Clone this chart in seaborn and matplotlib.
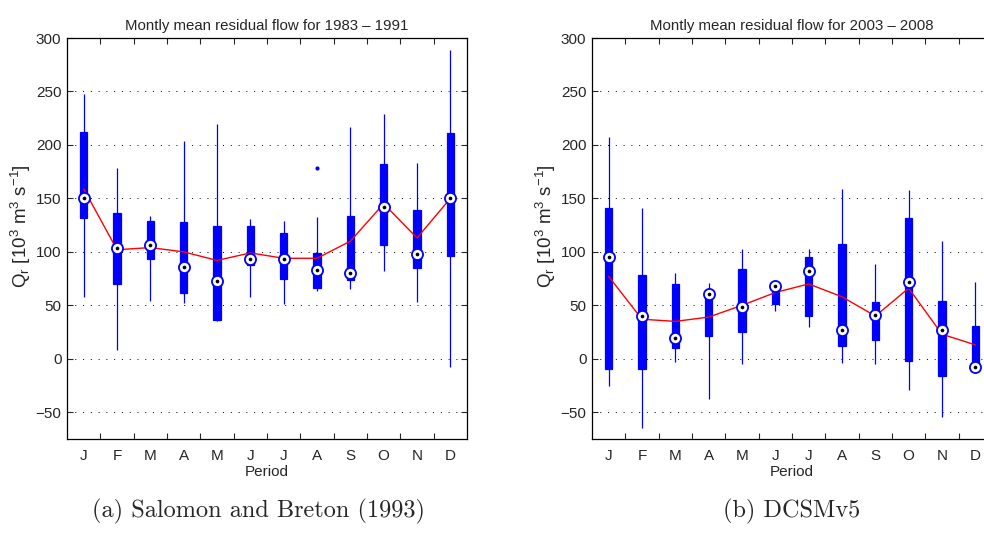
import numpy as np
import pandas as pd
import matplotlib
matplotlib.use("Agg")
import matplotlib.pyplot as plt
import seaborn as sns

# ---------------- data ----------------
months = ["Jan", "Feb", "Mar", "Apr", "May", "Jun", "Jul", "Aug", "Sep", "Oct", "Nov", "Dec"]
tick_labels = ["J", "F", "M", "A", "M", "J", "J", "A", "S", "O", "N", "D"]

# (a) Salomon and Breton (1993), 1983-1991
a_lo   = [58, 8, 54, 52, 35, 58, 51, 63, 65, 82, 53, -8]
a_q1   = [132, 70, 93, 62, 36, 88, 75, 66, 74, 106, 85, 96]
a_med  = [150, 104, 106, 86, 73, 93, 93, 83, 80, 142, 98, 150]
a_q3   = [212, 136, 129, 128, 124, 124, 118, 99, 134, 182, 139, 211]
a_hi   = [248, 178, 134, 204, 220, 131, 129, 133, 217, 229, 183, 289]
a_mean = [159, 102, 104, 100, 92, 99, 94, 94, 110, 145, 113, 150]
a_out_month = ["Aug"]
a_out_value = [178]

# (b) DCSMv5, 2003-2008
b_lo   = [-25, -65, -3, -38, -5, 45, 30, -4, -5, -29, -54, -10]
b_q1   = [-10, -10, 10, 21, 25, 51, 40, 12, 18, -2, -16, -8]
b_med  = [95, 40, 19, 61, 48, 68, 82, 27, 41, 72, 27, -8]
b_q3   = [141, 78, 70, 58, 84, 63, 95, 107, 53, 132, 54, 31]
b_hi   = [207, 141, 80, 71, 103, 70, 103, 159, 89, 158, 110, 72]
b_mean = [77, 37, 35, 39, 50, 62, 70, 58, 40, 66, 23, 13]

titles = ["Montly mean residual flow for 1983 \u2013 1991",
          "Montly mean residual flow for 2003 \u2013 2008"]
captions = ["(a) Salomon and Breton (1993)", "(b) DCSMv5"]
ylabel = r"Q$_\mathregular{r}$ [10$^\mathregular{3}$ m$^\mathregular{3}$ s$^\mathregular{-1}$]"
xlabel = "Period"
yticks = [-50, 0, 50, 100, 150, 200, 250, 300]

# ---------------- style ----------------
sns.set_style("white")
plt.rcParams["font.family"] = ["Liberation Sans", "DejaVu Sans"]
plt.rcParams["mathtext.default"] = "regular"
plt.rcParams["axes.linewidth"] = 0.9

BLUE = "#0000ff"


def panel_frame(lo, q1, med, q3, hi):
    rows = []
    for i, m in enumerate(months):
        for v in sorted([lo[i], q1[i], med[i], q3[i], hi[i]]):
            rows.append({"pos": i, "month": m, "value": v})
    return pd.DataFrame(rows)


fig = plt.figure(figsize=(9.84, 5.6), dpi=100)
ax_a = fig.add_axes([67 / 984, 1 - 439 / 560, 400 / 984, 401 / 560])
ax_b = fig.add_axes([592 / 984, 1 - 439 / 560, 400 / 984, 401 / 560])

panels = [
    (ax_a, a_lo, a_q1, a_med, a_q3, a_hi, a_mean, a_out_month, a_out_value),
    (ax_b, b_lo, b_q1, b_med, b_q3, b_hi, b_mean, [], []),
]

for k, (ax, lo, q1, med, q3, hi, mean, om, ov) in enumerate(panels):
    df = panel_frame(lo, q1, med, q3, hi)
    pos = np.arange(len(months))

    ax.set_axisbelow(True)
    ax.yaxis.grid(True, color="black", linestyle=(0, (1, 7)), linewidth=0.7)
    ax.xaxis.grid(False)

    sns.boxplot(data=df, x="pos", y="value", native_scale=True, orient="x",
                whis=(0, 100), width=0.22, color=BLUE, linecolor=BLUE,
                saturation=1, linewidth=0.9, showcaps=False, showfliers=False,
                medianprops={"color": BLUE, "linewidth": 0.5},
                ax=ax, zorder=2)

    sns.lineplot(x=pos, y=mean, color="red", linewidth=1.0, ax=ax,
                 zorder=3, estimator=None, sort=False)

    sns.scatterplot(x=pos, y=med, marker="o", s=64, facecolor="white",
                    edgecolor=BLUE, linewidth=1.3, ax=ax, zorder=4)
    sns.scatterplot(x=pos, y=med, marker="o", s=7, color="black",
                    edgecolor="black", linewidth=0, ax=ax, zorder=5)

    if om:
        opos = [months.index(m) for m in om]
        sns.scatterplot(x=opos, y=ov, marker="o", s=9, color=BLUE,
                        edgecolor=BLUE, linewidth=0, ax=ax, zorder=4)

    ax.set_xlim(-0.5, len(months) - 0.5)
    ax.set_ylim(-75, 300)
    ax.set_yticks(yticks)
    ax.set_yticklabels([str(v) if v >= 0 else "\u2212" + str(-v) for v in yticks])
    ax.set_xticks(pos)
    ax.set_xticklabels(tick_labels)
    ax.set_xticks(np.arange(0.5, len(months) - 1, 1), minor=True)
    ax.tick_params(axis="x", which="major", length=0, pad=7, labelsize=11)
    ax.tick_params(axis="x", which="minor", length=4, direction="in",
                   top=True, bottom=True, width=0.8)
    ax.tick_params(axis="y", which="major", length=4, direction="in",
                   left=True, right=True, pad=4, labelsize=11, width=0.8)
    for s in ax.spines.values():
        s.set_visible(True)
        s.set_color("black")

    ax.set_xlabel(xlabel, fontsize=11, labelpad=2)
    ax.set_ylabel(ylabel, fontsize=13.5, labelpad=2)
    ax.yaxis.label.set_y(0.53)
    ax.set_title(titles[k], fontsize=10.8, pad=6)

fig.text(258 / 984, 1 - 511 / 560, captions[0], family="cmr10", fontsize=17.5,
         ha="center", va="center")
fig.text(792 / 984, 1 - 511 / 560, captions[1], family="cmr10", fontsize=17.5,
         ha="center", va="center")

fig.savefig("out.png", dpi=100)
